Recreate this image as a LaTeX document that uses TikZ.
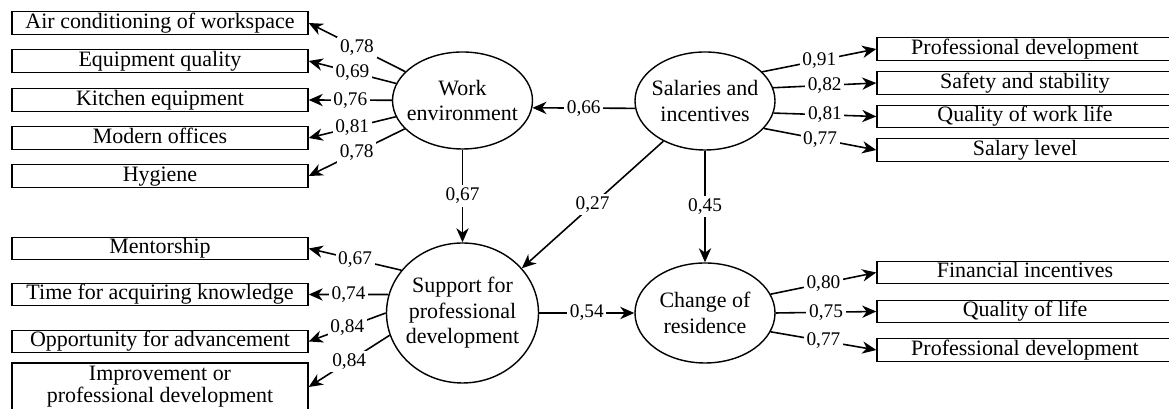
\documentclass[tikz,border=0pt]{standalone}
\usepackage{fontspec}
\setmainfont{Liberation Serif}
\usetikzlibrary{arrows.meta,positioning}
\usetikzlibrary{shapes.geometric}

\begin{document}
\begin{tikzpicture}[
    >={Stealth[length=8pt,width=7pt,inset=2.5pt]},
    font=\fontsize{12.5}{14.5}\selectfont,
    item/.style={
        rectangle,
        draw=black,
        line width=0.8pt,
        minimum width=5.92cm,
        minimum height=0.45cm,
        inner sep=0pt,
        text height=9pt,
        text depth=2.8pt
    },
    itemtall/.style={
        rectangle,
        draw=black,
        line width=0.8pt,
        minimum width=5.92cm,
        minimum height=0.96cm,
        inner sep=0pt,
        align=center,
        font=\fontsize{12.5}{12.5}\selectfont
    },
    factor/.style={
        ellipse,
        draw=black,
        line width=0.8pt,
        inner xsep=-4pt,
        inner ysep=0pt,
        align=center
    },
    edge/.style={
        ->,
        line width=0.9pt
    },
    weight/.style={
        fill=white,
        inner sep=1.5pt,
        font=\fontsize{11}{13}\selectfont
    }
]

\useasboundingbox (0,0) rectangle (23.38,8.18);

% Factors
\node[factor, minimum width=2.8cm, minimum height=1.94cm] (we) at (9.25,6.17) {Work\\environment};
\node[factor, minimum width=2.8cm, minimum height=1.96cm] (sal) at (14.1,6.16) {Salaries and\\incentives};
\node[factor, minimum width=3.04cm, minimum height=2.8cm] (sup) at (9.25,1.92) {Support for\\professional\\development};
\node[factor, minimum width=2.8cm, minimum height=2.0cm] (chg) at (14.1,1.92) {Change of\\residence};

% Work environment items
\node[item] (w1) at (3.2,7.72) {Air conditioning of workspace};
\node[item] (w2) at (3.2,6.96) {Equipment quality};
\node[item] (w3) at (3.2,6.18) {Kitchen equipment};
\node[item] (w4) at (3.2,5.42) {Modern offices};
\node[item] (w5) at (3.2,4.66) {Hygiene};

% Support items
\node[item] (p1) at (3.2,3.21) {Mentorship};
\node[item] (p2) at (3.2,2.29) {Time for acquiring knowledge};
\node[item] (p3) at (3.2,1.35) {Opportunity for advancement};
\node[itemtall] (p4) at (3.2,0.44) {Improvement or\\professional development};

% Salaries items
\node[item] (s1) at (20.5,7.2) {Professional development};
\node[item] (s2) at (20.5,6.52) {Safety and stability};
\node[item] (s3) at (20.5,5.85) {Quality of work life};
\node[item] (s4) at (20.5,5.18) {Salary level};

% Residence items
\node[item] (c1) at (20.5,2.73) {Financial incentives};
\node[item] (c2) at (20.5,1.95) {Quality of life};
\node[item] (c3) at (20.5,1.18) {Professional development};

% Paths between factors
\draw[edge] (sal.186) -- node[weight] {0,66} (we.-6);
\draw[edge] (we) -- node[weight] {0,67} (sup);
\draw[edge] (sal.224) -- node[weight] {0,27} (sup.37);
\draw[edge] (sal) -- node[weight] {0,45} (chg);
\draw[edge] (sup) -- node[weight] {0,54} (chg);

% Loadings
\draw[edge] (we) -- node[weight] {0,78} (w1.east);
\draw[edge] (we) -- node[weight] {0,69} (w2.east);
\draw[edge] (we) -- node[weight] {0,76} (w3.east);
\draw[edge] (we) -- node[weight] {0,81} (w4.east);
\draw[edge] (we) -- node[weight] {0,78} (w5.east);

\draw[edge] (sup.145) -- node[weight] {0,67} (p1.east);
\draw[edge] (sup.166) -- node[weight] {0,74} (p2.east);
\draw[edge] (sup.180) -- node[weight] {0,84} (p3.east);
\draw[edge] (sup.197) -- node[weight] {0,84} (p4.east);

\draw[edge] (sal.27) -- node[weight] {0,91} (s1.west);
\draw[edge] (sal.11) -- node[weight] {0,82} (s2.west);
\draw[edge] (sal.-10) -- node[weight] {0,81} (s3.west);
\draw[edge] (sal.-25) -- node[weight] {0,77} (s4.west);

\draw[edge] (chg.16) -- node[weight] {0,80} (c1.west);
\draw[edge] (chg.0) -- node[weight] {0,75} (c2.west);
\draw[edge] (chg.-16) -- node[weight] {0,77} (c3.west);

\end{tikzpicture}
\end{document}
